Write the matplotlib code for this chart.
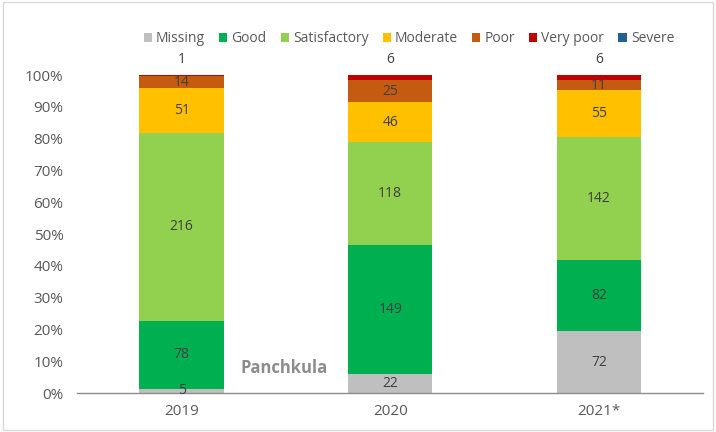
import numpy as np
import matplotlib.pyplot as plt
from matplotlib.patches import Rectangle

plt.rcParams['font.family'] = ['Open Sans', 'DejaVu Sans']

years = ['2019', '2020', '2021*']
categories = ['Missing', 'Good', 'Satisfactory', 'Moderate', 'Poor', 'Very poor', 'Severe']
colors = ['#bfbfbf', '#00b050', '#92d050', '#ffc000', '#c55a11', '#c00000', '#255e91']

missing = [5, 22, 72]
good = [78, 149, 82]
satisfactory = [216, 118, 142]
moderate = [51, 46, 55]
poor = [14, 25, 11]
very_poor = [1, 6, 6]
severe = [0, 0, 0]

series = [missing, good, satisfactory, moderate, poor, very_poor, severe]
data = np.array(series, dtype=float)
totals = data.sum(axis=0)
pct = data / totals * 100

fig = plt.figure(figsize=(7.16, 4.32), dpi=100)
ax = fig.add_axes([0.108, 0.09, 0.874, 0.736])

x = np.arange(len(years))
bottom = np.zeros(len(years))
for i, (name, col) in enumerate(zip(categories, colors)):
    ax.bar(x, pct[i], 0.405, bottom=bottom, color=col, label=name)
    for j in range(len(years)):
        v = data[i, j]
        if v == 0:
            continue
        if name == 'Very poor':
            ypos = 104.8
        else:
            ypos = bottom[j] + pct[i, j] / 2
        ax.text(x[j], ypos, f'{int(v)}', ha='center', va='center',
                fontsize=10, color='#404040')
    bottom += pct[i]

ax.text(0.49, 8, 'Panchkula', ha='center', va='center', fontsize=12,
        fontweight='bold', color='#8c8c8c')

ax.set_xlim(-0.5, 2.5)
ax.set_ylim(0, 100)
ax.set_yticks(np.arange(0, 101, 10))
ax.set_yticklabels([f'{t}%' for t in range(0, 101, 10)])
ax.set_xticks(x)
ax.set_xticklabels(years)
ax.tick_params(axis='both', length=0, labelsize=11, colors='#595959')
ax.tick_params(axis='x', pad=8)
ax.tick_params(axis='y', pad=10)
for s in ['top', 'right', 'left']:
    ax.spines[s].set_visible(False)
ax.spines['bottom'].set_color('#8c8c8c')
ax.spines['bottom'].set_linewidth(1)

leg = fig.legend(loc='upper center', bbox_to_anchor=(0.571, 0.957), ncol=7,
                 frameon=False, fontsize=10, handlelength=0.6, handleheight=0.6,
                 handletextpad=0.3, columnspacing=1.0, labelcolor='#595959')

fig.patches.append(Rectangle((0.004, 0.004), 0.992, 0.992, transform=fig.transFigure,
                             fill=False, edgecolor='#d9d9d9', linewidth=1))

fig.savefig('out.png', dpi=100)
